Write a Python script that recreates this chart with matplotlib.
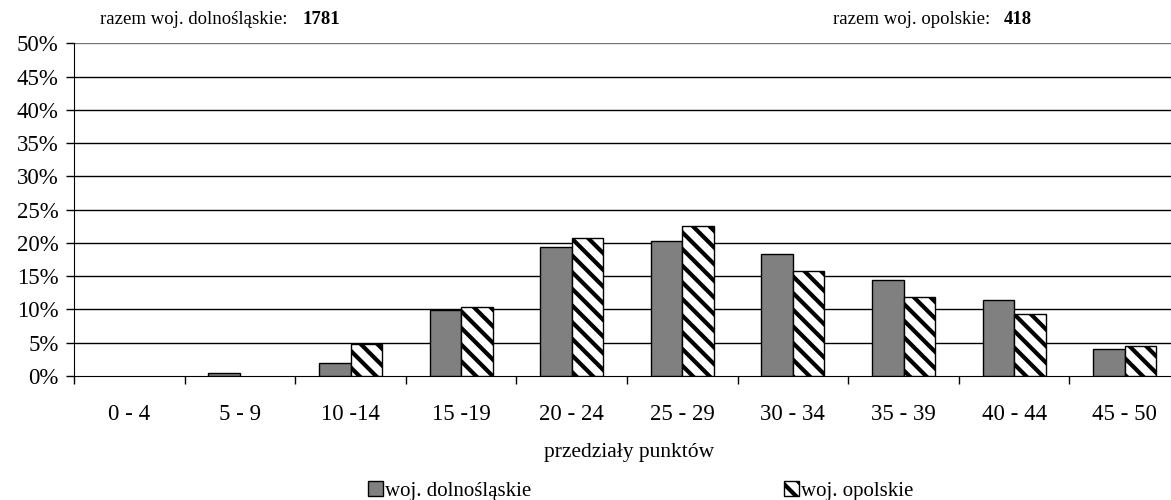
import matplotlib
matplotlib.use("Agg")
import matplotlib.pyplot as plt
from matplotlib.patches import Patch
import numpy as np

categories = ["0 - 4", "5 - 9", "10 -14", "15 -19", "20 - 24", "25 - 29",
              "30 - 34", "35 - 39", "40 - 44", "45 - 50"]
dolnoslaskie = [0.0, 0.45, 2.0, 9.9, 19.4, 20.3, 18.3, 14.5, 11.4, 4.0]
opolskie = [0.0, 0.0, 4.85, 10.4, 20.7, 22.5, 15.8, 11.8, 9.35, 4.45]
yticks = [0, 5, 10, 15, 20, 25, 30, 35, 40, 45, 50]
series_names = ["woj. dolnośląskie", "woj. opolskie"]
total_dol = "1781"
total_op = "418"

plt.rcParams['font.family'] = ['Liberation Serif', 'DejaVu Serif']
plt.rcParams['hatch.linewidth'] = 3.0

W, H = 1171, 500
fig = plt.figure(figsize=(W / 100, H / 100), dpi=100)
ax = fig.add_axes([74 / W, (H - 376) / H, (1180 - 74) / W, (376 - 43.3) / H])

x = np.arange(len(categories))
bw = 0.285
lw_d = [1.0 if v > 0 else 0.0 for v in dolnoslaskie]
lw_o = [1.0 if v > 0 else 0.0 for v in opolskie]
ax.bar(x - bw / 2, dolnoslaskie, bw, color="#808080", edgecolor="black",
       linewidth=lw_d, zorder=3, label=series_names[0])
ax.bar(x + bw / 2, opolskie, bw, color="white", edgecolor="black",
       hatch="\\\\", linewidth=lw_o, zorder=3, label=series_names[1])

ax.set_xlim(-0.5, len(categories) - 0.5)
ax.set_ylim(0, 50)
ax.set_yticks(yticks)
ax.set_yticklabels([f"{v}%" for v in yticks], fontsize=16.5)
for v in yticks[1:]:
    ax.axhline(v, color="black" if v < 50 else "#777777", linewidth=1.0, zorder=1)

ax.set_xticks(x)
ax.set_xticklabels(categories, fontsize=16.5)
ax.set_xticks(np.arange(-0.5, len(categories) - 0.5, 1.0), minor=True)
ax.tick_params(axis="x", which="major", length=0, pad=20)
ax.tick_params(axis="x", which="minor", length=6, direction="out", color="black", width=1)
ax.tick_params(axis="y", length=6, direction="out", color="black", width=1, pad=5)

for s in ["top", "right"]:
    ax.spines[s].set_visible(False)
ax.spines["left"].set_color("black")
ax.spines["bottom"].set_color("black")

fig.text(629 / W, 1 - 452 / H, "przedziały punktów", ha="center", va="center", fontsize=15.5)

fig.text(100 / W, 1 - 20 / H, "razem woj. dolnośląskie:", ha="left", va="center", fontsize=13.5)
fig.text(302 / W, 1 - 20 / H, total_dol, ha="left", va="center", fontsize=13.5, fontweight="bold")
fig.text(833 / W, 1 - 20 / H, "razem woj. opolskie:", ha="left", va="center", fontsize=13.5)
fig.text(1004 / W, 1 - 20 / H, total_op, ha="left", va="center", fontsize=13.5, fontweight="bold")

h1 = Patch(facecolor="#808080", edgecolor="black", linewidth=1.0)
h2 = Patch(facecolor="white", edgecolor="black", hatch="\\\\", linewidth=1.0)
kw = dict(frameon=False, fontsize=15, handlelength=0.7, handleheight=0.7,
          handletextpad=0.12, borderpad=0, borderaxespad=0)
leg1 = fig.legend([h1], [series_names[0]], loc="center left",
                  bbox_to_anchor=(368 / W, 1 - 491 / H), **kw)
leg2 = fig.legend([h2], [series_names[1]], loc="center left",
                  bbox_to_anchor=(784 / W, 1 - 491 / H), **kw)

fig.savefig("out.png", dpi=100)
